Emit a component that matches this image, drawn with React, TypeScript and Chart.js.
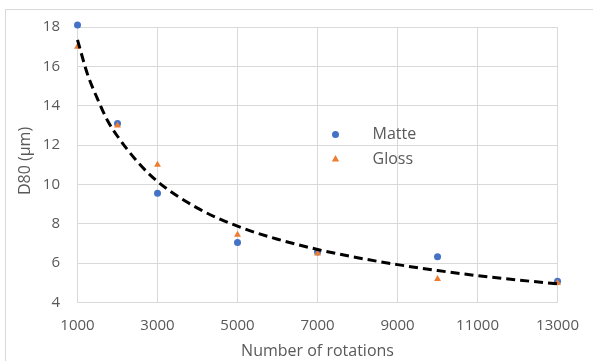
import React, { useEffect, useRef } from "react";
import { Chart, registerables } from "chart.js";

Chart.register(...registerables);

// Rotation counts and measured D80 values
const rotations = [1000, 2000, 3000, 5000, 7000, 10000, 13000];
const matteD80 = [18.1, 13.1, 9.55, 7.05, 6.57, 6.33, 5.08];
const glossD80 = [17.0, 13.0, 11.0, 7.45, 6.5, 5.2, 5.0];

// Power-law trend curve sampled along the rotation range
const trendRotations = [1000, 1250, 1500, 1750, 2000, 2500, 3000, 4000, 5000, 6000, 7000, 8000, 9000, 10000, 11000, 12000, 13000];
const trendD80 = [17.35, 15.6, 14.35, 13.25, 12.45, 11.15, 10.15, 8.8, 7.88, 7.22, 6.7, 6.28, 5.93, 5.63, 5.37, 5.15, 4.95];

// Axis ticks
const xTicks = [1000, 3000, 5000, 7000, 9000, 11000, 13000];
const yTicks = [4, 6, 8, 10, 12, 14, 16, 18];

const xTitle = "Number of rotations";
const yTitle = "D80 (µm)";

const FONT = "'Open Sans', sans-serif";
const TEXT = "#595959";
const GRID = "#d9d9d9";

const toPoints = (xs: number[], ys: number[]) => xs.map((x, i) => ({ x, y: ys[i] }));

const frameAndTitles = {
  id: "frameAndTitles",
  beforeDraw(chart: any) {
    const { ctx, width, height } = chart;
    ctx.save();
    ctx.fillStyle = "#ffffff";
    ctx.fillRect(0, 0, width, height);
    ctx.strokeStyle = GRID;
    ctx.lineWidth = 1;
    ctx.strokeRect(5.5, 9.5, width + 20, height + 20);
    ctx.restore();
  },
  afterDraw(chart: any) {
    const { ctx, chartArea } = chart;
    ctx.save();
    ctx.fillStyle = TEXT;
    ctx.font = `16px ${FONT}`;
    ctx.textAlign = "center";
    ctx.textBaseline = "middle";
    ctx.fillText(xTitle, (chartArea.left + chartArea.right) / 2, 351.5);
    ctx.translate(25, 161);
    ctx.rotate(-Math.PI / 2);
    ctx.fillText(yTitle, 0, 0);
    ctx.restore();
  },
};

// Legend drawn inside the plot area, in legendIndex order
const insideLegend = {
  id: "insideLegend",
  afterDatasetsDraw(chart: any) {
    const { ctx } = chart;
    const items = chart.data.datasets
      .filter((d: any) => d.legendIndex !== undefined)
      .sort((a: any, b: any) => a.legendIndex - b.legendIndex);
    ctx.save();
    items.forEach((d: any, i: number) => {
      const cx = 335.5;
      const cy = 134.5 + i * 24.5;
      ctx.fillStyle = d.backgroundColor;
      ctx.beginPath();
      if (d.pointStyle === "triangle") {
        const r = 4;
        ctx.moveTo(cx, cy - r);
        ctx.lineTo(cx + r * 0.91, cy + r * 0.6);
        ctx.lineTo(cx - r * 0.91, cy + r * 0.6);
        ctx.closePath();
      } else {
        ctx.arc(cx, cy, 3.5, 0, Math.PI * 2);
      }
      ctx.fill();
      ctx.fillStyle = TEXT;
      ctx.font = `16px ${FONT}`;
      ctx.textAlign = "left";
      ctx.textBaseline = "middle";
      ctx.fillText(d.label, 372.5, cy);
    });
    ctx.restore();
  },
};

export default function App() {
  const canvasRef = useRef<HTMLCanvasElement | null>(null);

  useEffect(() => {
    document.body.style.margin = "0";
    const canvas = canvasRef.current;
    if (!canvas) return;
    const chart = new Chart(canvas, {
      type: "scatter",
      data: {
        datasets: [
          {
            type: "line",
            label: "Trend",
            data: toPoints(trendRotations, trendD80),
            borderColor: "#000000",
            borderWidth: 3,
            borderDash: [9, 5],
            pointRadius: 0,
            fill: false,
            cubicInterpolationMode: "monotone",
            order: 0,
          } as any,
          {
            label: "Gloss",
            legendIndex: 1,
            data: toPoints(rotations, glossD80),
            backgroundColor: "#ED7D31",
            borderColor: "#ED7D31",
            borderWidth: 0,
            pointStyle: "triangle",
            pointRadius: 4,
            order: 1,
          } as any,
          {
            label: "Matte",
            legendIndex: 0,
            data: toPoints(rotations, matteD80),
            backgroundColor: "#4472C4",
            borderColor: "#4472C4",
            borderWidth: 0,
            pointStyle: "circle",
            pointRadius: 3.5,
            order: 2,
          } as any,
        ],
      },
      options: {
        animation: false,
        responsive: false,
        maintainAspectRatio: false,
        clip: false as any,
        layout: { padding: { top: 27, right: 31, left: 0, bottom: 0 } },
        plugins: {
          legend: { display: false },
          tooltip: { enabled: false },
        },
        scales: {
          x: {
            type: "linear",
            min: 1000,
            max: 13000,
            afterBuildTicks: (scale: any) => {
              scale.ticks = xTicks.map((v) => ({ value: v }));
            },
            afterFit: (scale: any) => {
              scale.height = 58.4;
            },
            grid: { color: GRID, lineWidth: 1, drawTicks: false },
            border: { color: GRID, width: 1 },
            ticks: {
              color: TEXT,
              font: { family: FONT, size: 15 },
              padding: 14,
              maxRotation: 0,
              autoSkip: false,
              callback: (v: any) => String(v),
            },
          },
          y: {
            type: "linear",
            min: 4,
            max: 18,
            afterBuildTicks: (scale: any) => {
              scale.ticks = yTicks.map((v) => ({ value: v }));
            },
            afterFit: (scale: any) => {
              scale.width = 77.5;
            },
            grid: { color: GRID, lineWidth: 1, drawTicks: false },
            border: { color: GRID, width: 1 },
            ticks: {
              color: TEXT,
              font: { family: FONT, size: 15 },
              padding: 17.5,
              autoSkip: false,
              callback: (v: any) => String(v),
            },
          },
        },
      },
      plugins: [frameAndTitles, insideLegend],
    });
    return () => chart.destroy();
  }, []);

  return (
    <div style={{ width: 593, height: 361, position: "relative" }}>
      <canvas ref={canvasRef} width={593} height={361} style={{ display: "block" }} />
    </div>
  );
}
